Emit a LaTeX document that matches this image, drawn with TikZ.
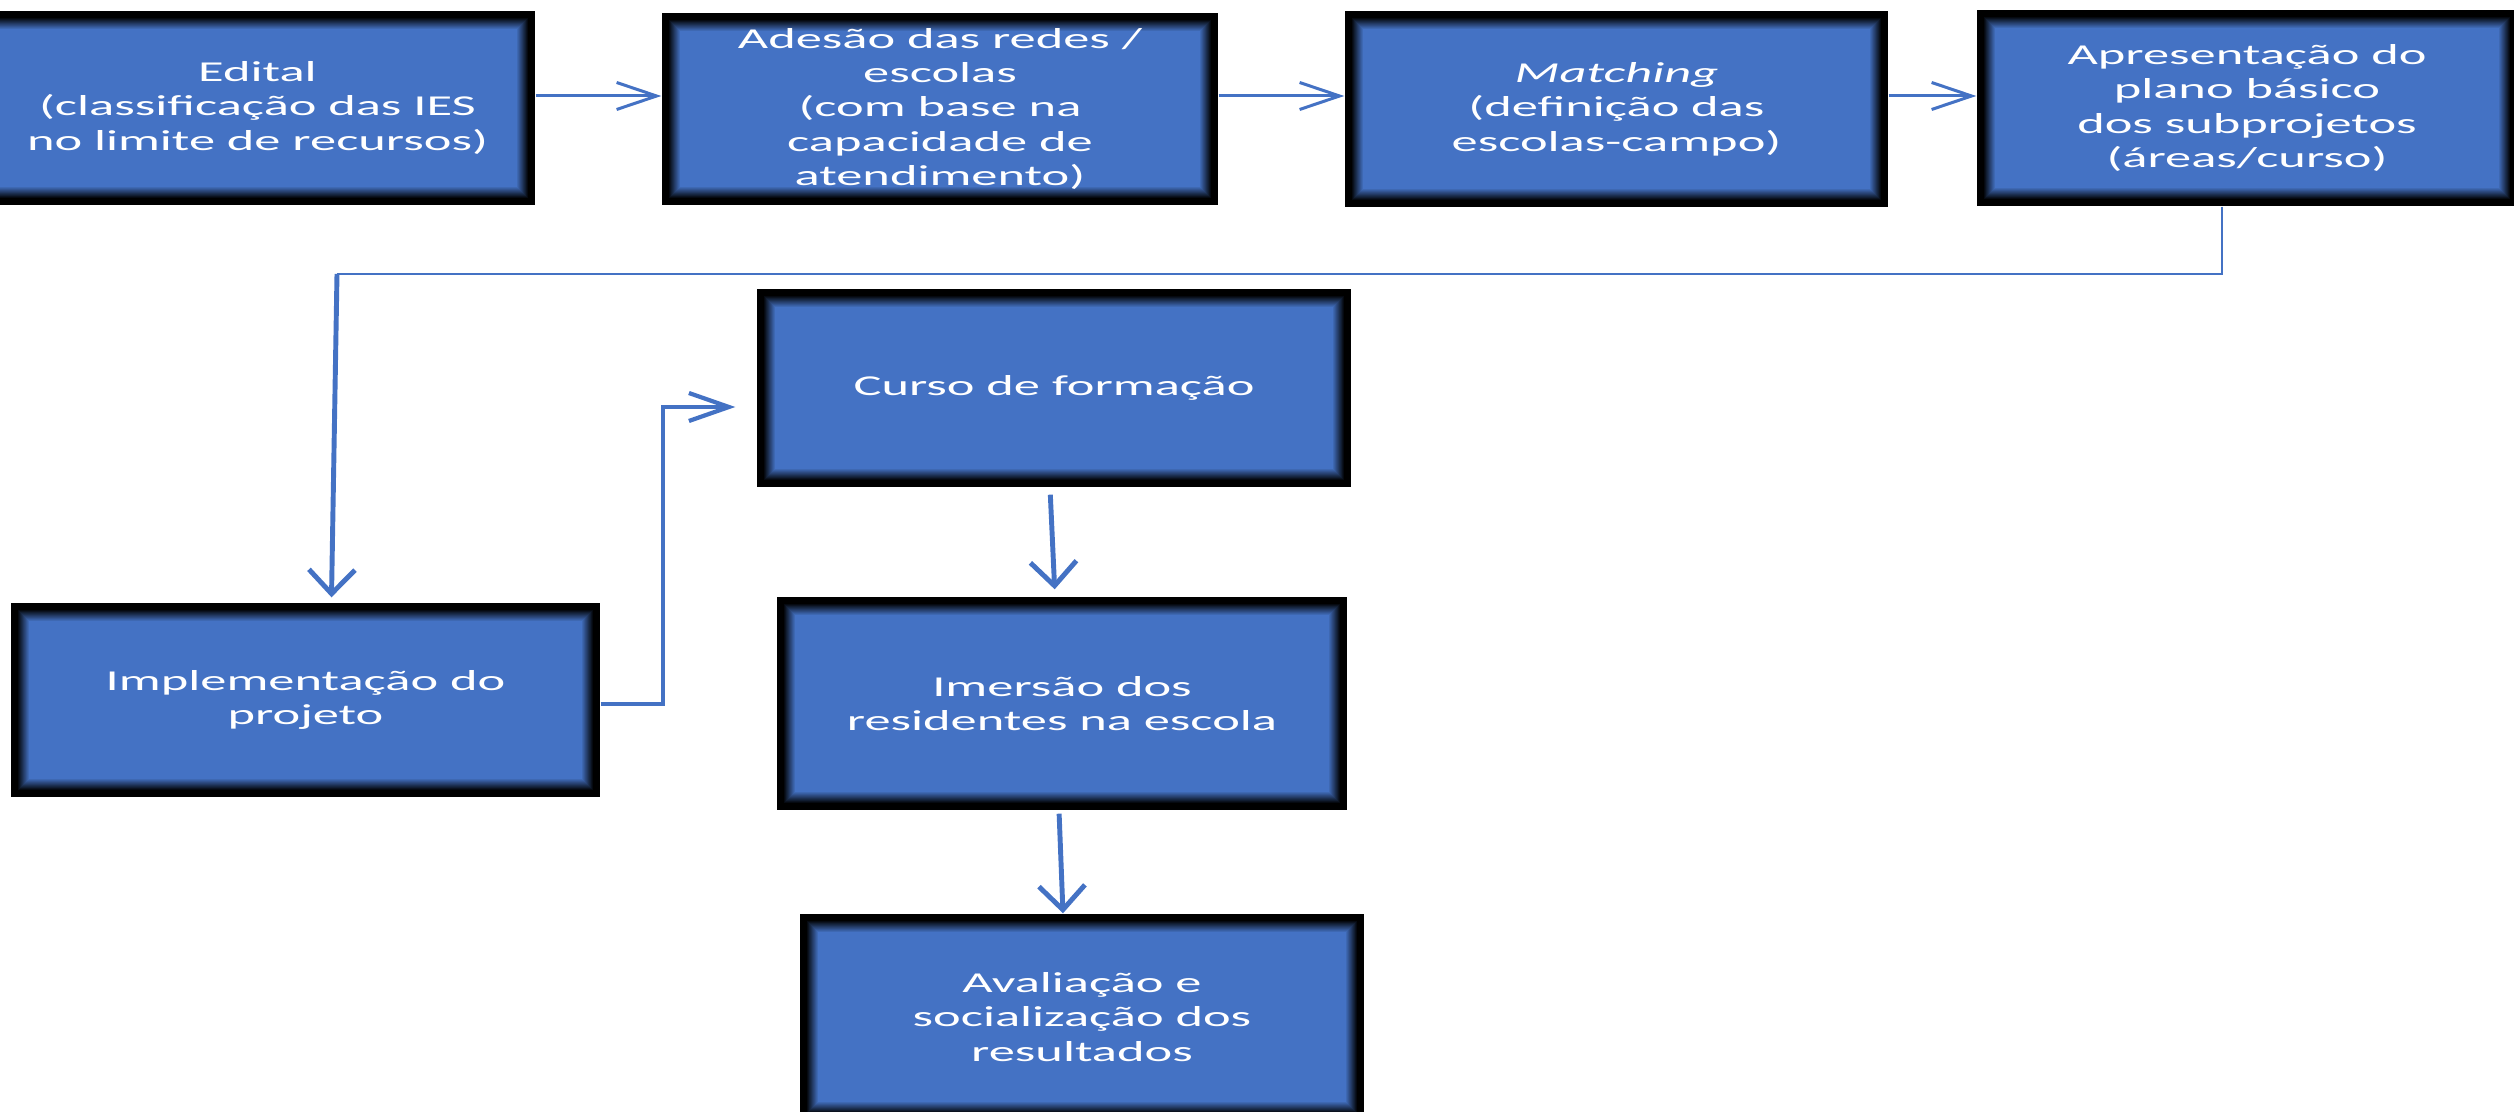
\documentclass[tikz,border=0pt]{standalone}
\usepackage{fontspec}
\setmainfont{Carlito}[FakeStretch=1.82]
\usetikzlibrary{arrows.meta}
\definecolor{azul}{RGB}{68,114,196}

\tikzset{
  etapa/.style={fill=black, text=white, align=center, inner sep=0pt,
    font=\fontsize{8.2}{9.8}\selectfont,
    path picture={
      \foreach \k in {0,...,11}{
        \pgfmathsetmacro\ins{0.07+0.01*\k}
        \pgfmathsetmacro\mix{int(100*(\k+1)/12)}
        \fill[azul!\mix!black] ([shift={(\ins,\ins)}]path picture bounding box.south west)
          rectangle ([shift={(-\ins,-\ins)}]path picture bounding box.north east);
      }
    }},
  seta/.style={azul, line width=0.85pt, -{Straight Barb[length=4mm,width=2.7mm]}},
  setalado/.style={azul, line width=1.2pt, -{Straight Barb[length=4mm,width=2.8mm]}},
  setabaixo/.style={azul, line width=1.4pt, -{Straight Barb[length=2.4mm,width=4.6mm]}},
  fina/.style={azul, line width=0.6pt}
}

\begin{document}
\begin{tikzpicture}

\path[use as bounding box, clip] (0,0) rectangle (25.14,11.11);

% linha de cima
\node[etapa, minimum width=5.55cm, minimum height=1.94cm] (edital) at (2.575,10.03)
  {Edital\\(classificação das IES\\no limite de recursos)};
\node[etapa, minimum width=5.56cm, minimum height=1.92cm] (adesao) at (9.40,10.02)
  {Adesão das redes /\\escolas\\(com base na\\capacidade de\\atendimento)};
\node[etapa, minimum width=5.43cm, minimum height=1.96cm] (matching) at (16.165,10.02)
  {\textit{Matching}\\(definição das\\escolas-campo)};
\node[etapa, minimum width=5.40cm, minimum height=1.96cm] (apresentacao) at (22.47,10.03)
  {Apresentação do\\plano básico\\dos subprojetos\\(áreas/curso)};

% resto
\node[etapa, minimum width=5.89cm, minimum height=1.94cm] (implementacao) at (3.055,4.11)
  {Implementação do\\projeto};
\node[etapa, minimum width=5.94cm, minimum height=1.98cm] (curso) at (10.54,7.23)
  {Curso de formação};
\node[etapa, minimum width=5.70cm, minimum height=2.13cm] (imersao) at (10.62,4.075)
  {Imersão dos\\residentes na escola};
\node[etapa, minimum width=5.64cm, minimum height=2.06cm] (avaliacao) at (10.82,0.94)
  {Avaliação e\\socialização dos\\resultados};

\draw[seta] (edital.east |- 0,10.15) -- (adesao.west |- 0,10.15);
\draw[seta] (adesao.east |- 0,10.15) -- (matching.west |- 0,10.15);
\draw[seta] (matching.east |- 0,10.15) -- (apresentacao.west |- 0,10.15);

\coordinate (dobra) at (3.37,8.37);
\draw[fina] ([xshift=-2.5mm]apresentacao.south) |- (dobra);
\draw[setabaixo] (dobra) -- ([xshift=2.6mm,yshift=0.5mm]implementacao.north);

\draw[setalado, shorten >=2.1mm] ([yshift=-0.4mm]implementacao.east) -- ++(0.62,0)
  |- ([yshift=-1.9mm]curso.west);

\draw[setabaixo, shorten <=0.7mm, shorten >=0.7mm] ([xshift=-0.4mm]curso.south) -- ([xshift=-0.7mm]imersao.north);
\draw[setabaixo, shorten <=0.3mm] ([xshift=-0.3mm]imersao.south) -- ([xshift=-1.9mm]avaliacao.north);

\end{tikzpicture}
\end{document}
